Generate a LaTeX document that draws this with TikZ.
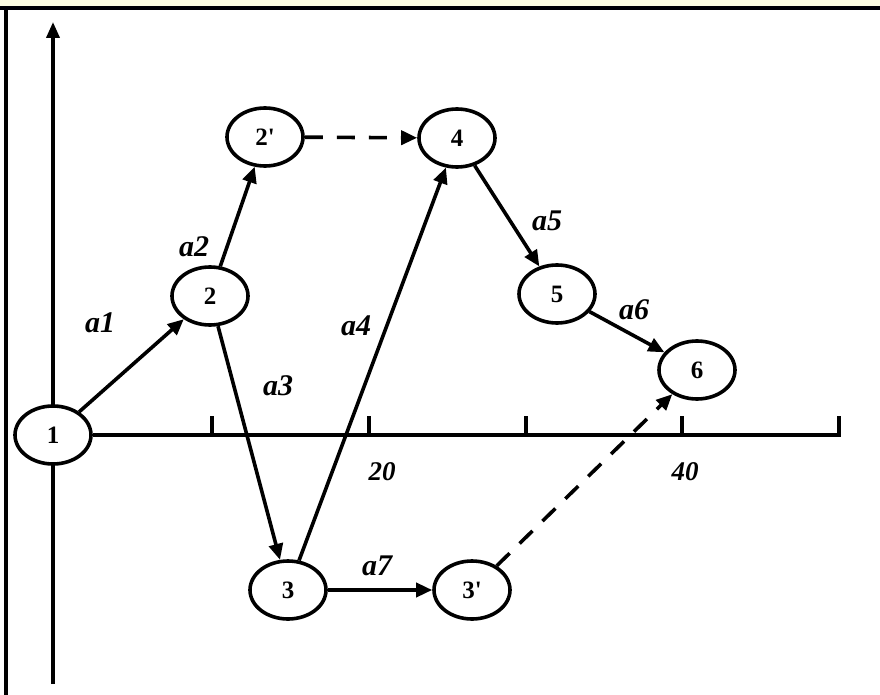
\documentclass[tikz,border=0pt]{standalone}
\usepackage{fontspec}
\setmainfont{Liberation Serif}
\newfontfamily\evfont{Liberation Serif}[Ligatures=TeXOff]
\usetikzlibrary{arrows.meta,shapes.geometric}
\definecolor{paleyellow}{RGB}{255,255,224}
\begin{document}
\begin{tikzpicture}[x=1pt,y=-1pt,
  ev/.style={ellipse,draw,line width=3.6pt,fill=white,minimum width=76pt,minimum height=58pt,inner sep=0pt,font=\evfont\fontsize{25}{28}\selectfont\bfseries},
  act/.style={line width=3.6pt,-{Triangle[length=16pt,width=14pt]}},
  dum/.style={act,dash pattern=on 18pt off 14pt},
  lab/.style={font=\fontsize{30}{32}\selectfont\bfseries\itshape},
  num/.style={font=\fontsize{27}{30}\selectfont\bfseries\itshape},
  axis/.style={line width=3.6pt}]
\useasboundingbox (0,0) rectangle (880,695);
\fill[paleyellow] (0,0) rectangle (880,6);
\fill[black] (0,6) rectangle (880,10);
\fill[black] (4,6) rectangle (8,695);
% axes
\coordinate (ybot) at (53,684);
\coordinate (ytop) at (53,22);
\draw[axis,-{Triangle[length=16pt,width=13pt]}] (ybot) -- (ytop);
\node[ev] (n1) at (53,435) {1};
\coordinate (xend) at (839,435);
\coordinate (xendtop) at (839,416);
\draw[axis] (n1.east) -- (xend) -- (xendtop);
\foreach \t in {212,369,526,682}{
  \draw[axis] (\t,435) -- (\t,416);
}
\node[num] (t20) at (382,472) {20};
\node[num] (t40) at (685,472) {40};
% events
\node[ev] (n2) at (210,296) {2};
\node[ev] (n2p) at (265,137) {2'};
\node[ev] (n4) at (457,138) {4};
\node[ev] (n5) at (557,294) {5};
\node[ev] (n6) at (697,370) {6};
\node[ev] (n3) at (288,590) {3};
\node[ev] (n3p) at (472,590) {3'};
% activities
\draw[act] (n1) -- (n2);
\draw[act] (n2) -- (n2p);
\draw[dum] (n2p) -- (n4);
\draw[act] (n2) -- (n3);
\draw[act] (n3) -- (n4);
\draw[act] (n4) -- (n5);
\draw[act] (n5) -- (n6);
\draw[act] (n3) -- (n3p);
\draw[dum] (n3p) -- (n6);
% labels
\node[lab] (la1) at (100,323) {a1};
\node[lab] (la2) at (194,247) {a2};
\node[lab] (la3) at (278,386) {a3};
\node[lab] (la4) at (356,326) {a4};
\node[lab] (la5) at (547,221) {a5};
\node[lab] (la6) at (634,310) {a6};
\node[lab] (la7) at (377,566) {a7};
\end{tikzpicture}
\end{document}
